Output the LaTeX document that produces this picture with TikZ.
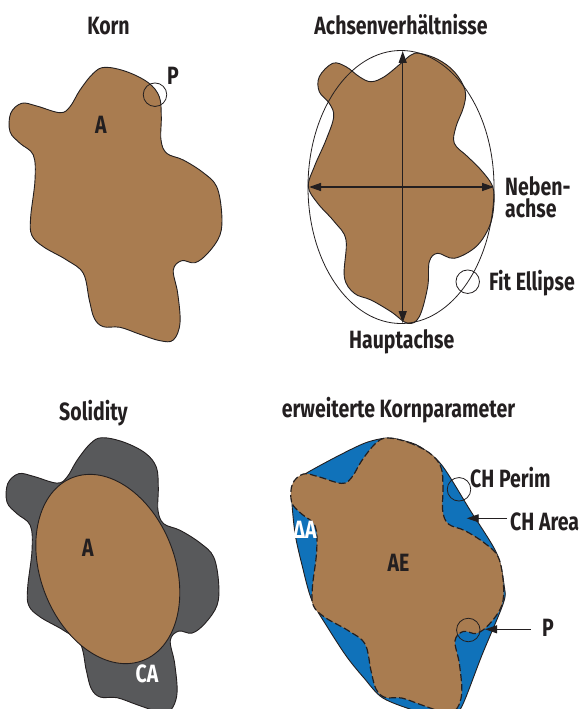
\documentclass[tikz,border=0pt]{standalone}
\usepackage{fontspec}
\setmainfont[FakeStretch=0.78]{Fira Sans}
\usetikzlibrary{arrows.meta}
\definecolor{brownfill}{HTML}{A97C50}
\definecolor{greyfill}{HTML}{58595B}
\definecolor{bluefill}{HTML}{1072BA}
\definecolor{ink}{HTML}{231F20}
\newcommand{\kornpath}{plot[smooth cycle,tension=0.6] coordinates {
(105,67.3)(126.7,71.7)(148.3,82.7)(159.3,96.7)(161.3,116.7)(161,140)(166.7,153.3)(183.3,160)(203.3,172.7)(216.7,186.7)(221.7,213.3)(220,235)(208,253)(195,262.7)(181.7,260.7)(173.3,270)(177.7,293.3)(180,323)(173.3,340)(160,340.7)(140,334.3)(120,327.3)(103.3,326.7)(94.3,318.3)(89.3,300)(83.3,273.3)(66.7,260)(43.3,246.7)(31.7,235)(30.7,216.7)(35,180)(33.3,155)(20,143.3)(10,131.7)(10.7,113.3)(21.7,103.3)(36.7,106)(60,112.7)(70,106.7)(80,90)(93.3,73.3)}}
\newcommand{\achsenpath}{plot[smooth cycle,tension=0.6] coordinates {
(419.3,53.3)(437.7,59.3)(454.3,71.7)(465,90)(463.7,106.7)(456,126.7)(454.3,143.3)(467.7,156.7)(481,170)(492.7,186.7)(493.7,206.7)(489.3,226.7)(476,246.7)(454.3,258.3)(437.7,253.3)(429.3,261.7)(427.7,286.7)(419.3,316.7)(407.7,323.3)(391,311.7)(371,300)(354.3,293.3)(344.3,276.7)(346,240)(334.3,221.7)(317.7,203.3)(308.3,186.7)(314.3,166.7)(326,140)(333.7,116.7)(329.3,103.3)(319.3,91.7)(319.3,76.7)(332.7,63.3)(346,66.7)(359.3,76.7)(371,81.7)(384.3,76.7)(401,63.3)(411,55)}}
\newcommand{\hullpath}{plot[smooth cycle,tension=0.5] coordinates {
(386.7,438)(365,443)(335,457.5)(303.3,475)(295,483.3)(291.7,496.7)(295,533.3)(302,565)(311.7,600)(328,628)(346.7,656.7)(364,678)(383.3,698.3)(420,712)(450,716)(461.7,706.7)(482,655)(503.3,603.3)(504.3,586.7)(496.7,553.3)(470,510)(441.7,465)(420,446.7)(403,440.5)}}
\tikzset{
  x=1pt,y=-1pt,
  grainline/.style={draw=ink,line width=0.9pt},
  thinline/.style={draw=ink,line width=0.8pt},
  marker/.style={circle,draw=ink,line width=0.8pt,minimum size=23.5pt,inner sep=0pt},
  lab/.style={text=ink,inner sep=0pt,font=\bfseries\fontsize{25}{22}\selectfont},
  labw/.style={lab,text=white},
  axis/.style={draw=ink,line width=1.4pt,{Stealth[length=12pt,width=8pt,inset=0pt]}-{Stealth[length=12pt,width=8pt,inset=0pt]}},
  pointer/.style={draw=ink,line width=0.9pt,-{Stealth[length=12pt,width=8pt,inset=0pt]}},
}
\begin{document}
\begin{tikzpicture}
\useasboundingbox (0,0) rectangle (582,709);
\clip (0,0) rectangle (582,709);
% Korn
\path[fill=brownfill,grainline] \kornpath;
\node[marker] (pk) at (155,94.7) {};
\node[lab] (korn) at (108.5,26) {Korn};
\node[lab] (kp) at (173,76) {P};
\node[lab] (ka) at (101,125) {A};
% Achsen
\path[fill=brownfill,grainline] \achsenpath;
\path[thinline] (401,187) ellipse [x radius=93,y radius=136.5];
\coordinate (at) at (402.7,51);
\coordinate (ab) at (402.7,323);
\coordinate (al) at (309,187);
\coordinate (ar) at (494,187);
\draw[axis] (ab) -- (at);
\draw[axis] (al) -- (ar);
\node[marker] (fe) at (467.7,281.7) {};
\node[lab] (achs) at (401,25) {Achsenverhältnisse};
\node[lab,anchor=west,align=left] (nb) at (505,197) {Neben-\\achse};
\node[lab] (ha) at (401.7,342) {Hauptachse};
\node[lab,anchor=west] (fit) at (489,283) {Fit Ellipse};
% Solidity
\begin{scope}[shift={(-3,370.4)}]
\path[fill=greyfill,grainline] \kornpath;
\end{scope}
\path[fill=brownfill,grainline,shift={(107.8,569)},rotate=21] (0,0) ellipse [x radius=67.3,y radius=98];
\node[lab] (sol) at (93.5,413) {Solidity};
\node[lab] (sa) at (88,548) {A};
\node[labw] (ca) at (147,674) {CA};
% erweiterte Kornparameter
\path[fill=bluefill,grainline] \hullpath;
\begin{scope}[shift={(281.7,370.7)}]
\path[fill=brownfill] \kornpath;
\path[draw=ink,line width=1.2pt,dash pattern=on 7pt off 3pt] \kornpath;
\end{scope}
\node[marker] (chp) at (459,489.3) {};
\node[marker] (ppt) at (468.3,630) {};
\node[lab] (erw) at (398.5,410) {erweiterte Kornparameter};
\node[lab,anchor=west] (chpl) at (470,477.5) {CH Perim};
\node[lab,anchor=west] (chal) at (510,522) {CH Area};
\node[labw] (da) at (305,530) {ΔA};
\node[lab] (ae) at (398.5,563) {AE};
\node[lab] (pl) at (548,628) {P};
\coordinate (chtip) at (466.7,518.3);
\coordinate (ptip) at (485,629.3);
\draw[pointer] (chal.west |- chtip) ++(-3,0) -- (chtip);
\draw[pointer] (pl.west |- ptip) ++(-11,0) -- (ptip);
\end{tikzpicture}
\end{document}
